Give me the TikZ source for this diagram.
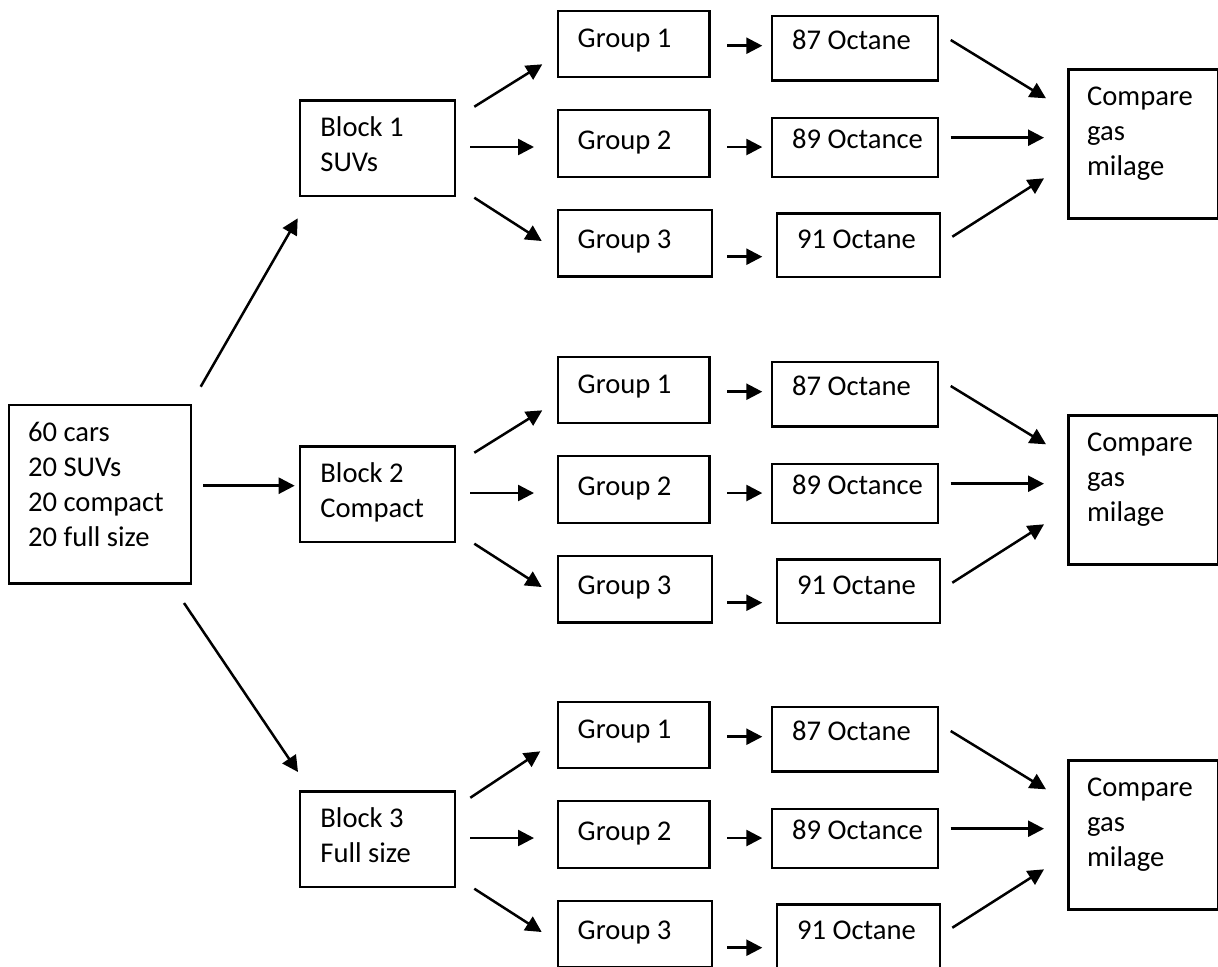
\documentclass[tikz,border=0pt]{standalone}
\usepackage{fontspec}
\setmainfont{Carlito}
\usetikzlibrary{arrows.meta}
\tikzset{
  box/.style={draw, line width=1.1pt, inner sep=0pt, anchor=north west},
  lbl/.style={inner sep=0pt, anchor=base west, font=\fontsize{14.3}{17.5}\selectfont},
  flow/.style={line width=1.25pt, -{Triangle[length=8pt,width=8pt]}},
}
% \boxat{name}{left}{top}{width}{height}, all in drawing units
\newcommand\boxat[5]{\node[box, minimum width={(#4)*0.5pt}, minimum height={(#5)*0.5pt}] (#1) at (#2,#3) {};}
\begin{document}
\begin{tikzpicture}[x=0.5pt, y=-0.5pt]
\useasboundingbox (0,0) rectangle (1218,966);

% start box
\boxat{cars}{7.7}{404}{182.3}{178.3}
\node[lbl] (cars1) at (27.7,441.7) {60 cars};
\node[lbl] (cars2) at (27.7,476.7) {20 SUVs};
\node[lbl] (cars3) at (27.7,511.7) {20 compact};
\node[lbl] (cars4) at (27.7,546.7) {20 full size};

% arrows from the start box to the three blocks
\coordinate (s1a) at (200.7,386.7); \coordinate (s1b) at (297.7,218.3);
\coordinate (s2a) at (203,485.7);   \coordinate (s2b) at (294.7,485.7);
\coordinate (s3a) at (184,603);     \coordinate (s3b) at (298,772);
\draw[flow] (s1a) -- (s1b);
\draw[flow] (s2a) -- (s2b);
\draw[flow] (s3a) -- (s3b);

\foreach \r/\d/\bt/\up in {1/0/SUVs/0, 2/346/Compact/0, 3/691/Full size/4}{
  % block
  \boxat{block\r}{298.7}{99.3+\d}{155}{95.4}
  \node[lbl] (bl\r a) at (320,136.7+\d) {Block \r};
  \node[lbl] (bl\r b) at (320,171.7+\d) {\bt};
  % groups
  \boxat{g\r1}{556.7}{10+\d}{151.6}{66}
  \boxat{g\r2}{556.7}{109+\d}{151.6}{66.7}
  \boxat{g\r3}{556.7}{209+\d}{154.3}{66.3}
  \node[lbl] (gt\r1) at (577.3,47.5+\d) {Group 1};
  \node[lbl] (gt\r2) at (577.3,149.3+\d) {Group 2};
  \node[lbl] (gt\r3) at (577.3,248.3+\d) {Group 3};
  % fuels
  \boxat{o\r1}{770.7}{15+\d}{166}{64.3}
  \boxat{o\r2}{770.7}{116.7+\d}{166}{59}
  \boxat{o\r3}{776}{212.3+\d}{163}{63.4}
  \node[lbl] (ot\r1) at (791.7,49.3+\d) {87 Octane};
  \node[lbl] (ot\r2) at (791.7,148.3+\d) {89 Octance};
  \node[lbl] (ot\r3) at (796.7,248.3+\d) {91 Octane};
  % comparison
  \boxat{cmp\r}{1067.3}{68.3+\d}{150}{149}
  \node[lbl] (ct\r a) at (1086.7,105.7+\d) {Compare};
  \node[lbl] (ct\r b) at (1086.7,140.7+\d) {gas};
  \node[lbl] (ct\r c) at (1086.7,175.7+\d) {milage};
  % arrow ends
  \coordinate (bg\r1a) at (474.3-\up,106.7+\d); \coordinate (bg\r1b) at (542.3-\up/2,64.3+\d-\up);
  \coordinate (bg\r2a) at (470,147+\d);     \coordinate (bg\r2b) at (534,147+\d);
  \coordinate (bg\r3a) at (474.3,197.7+\d); \coordinate (bg\r3b) at (541.7,241+\d);
  \coordinate (go\r1a) at (727,45.7+\d);    \coordinate (go\r1b) at (762.3,45.7+\d);
  \coordinate (go\r2a) at (727,147+\d);     \coordinate (go\r2b) at (762.3,147+\d);
  \coordinate (go\r3a) at (727,256.7+\d);   \coordinate (go\r3b) at (762.3,256.7+\d);
  \coordinate (oc\r1a) at (950.7,40+\d);    \coordinate (oc\r1b) at (1046,98.3+\d);
  \coordinate (oc\r2a) at (950.7,137.7+\d); \coordinate (oc\r2b) at (1044,137.7+\d);
  \coordinate (oc\r3a) at (952.3,236.7+\d); \coordinate (oc\r3b) at (1044,178.3+\d);
  \foreach \k in {1,2,3}{
    \draw[flow] (bg\r\k a) -- (bg\r\k b);
    \draw[flow] (go\r\k a) -- (go\r\k b);
    \draw[flow] (oc\r\k a) -- (oc\r\k b);
  }
}
\end{tikzpicture}
\end{document}
